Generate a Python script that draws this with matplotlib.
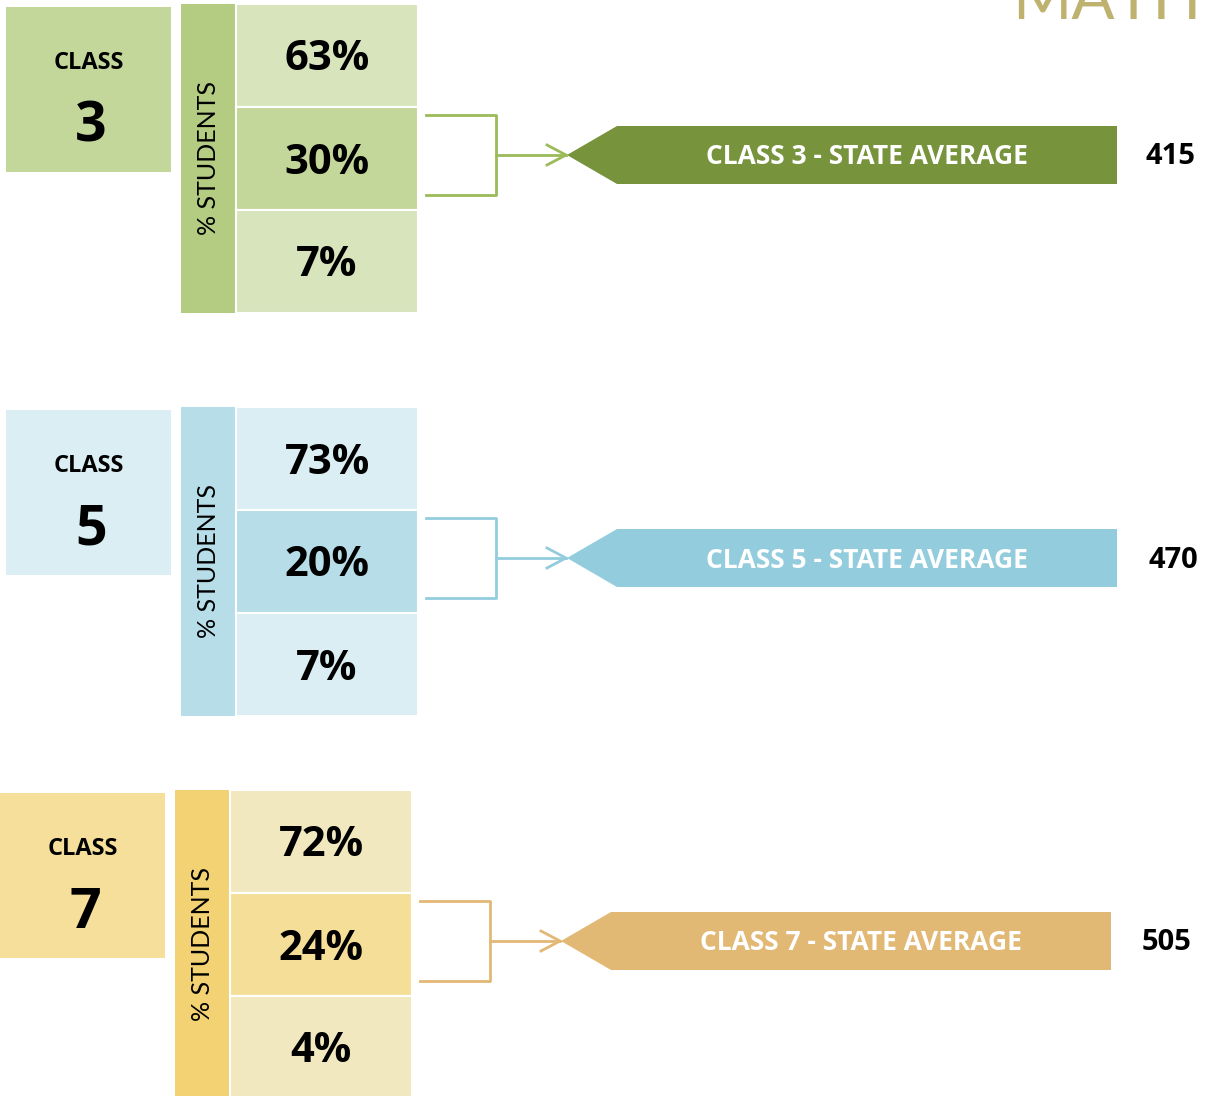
import matplotlib.pyplot as plt
from matplotlib.patches import Rectangle, Polygon

plt.rcParams['font.family'] = ['Open Sans', 'DejaVu Sans']

# data
classes = ['3', '5', '7']
top_pct = [63, 73, 72]
mid_pct = [30, 20, 24]
low_pct = [7, 7, 4]
state_avg = [415, 470, 505]

# colours per class: box, column, light cell, mid cell, banner/arrow
box_col = ['#C4D79B', '#DAEEF3', '#F6DF9A']
side_col = ['#B4CC82', '#B7DDE8', '#F3D274']
light_col = ['#D8E4BC', '#DAEEF3', '#F2E8BF']
mid_col = ['#C4D79B', '#B7DDE8', '#F5DF98']
banner_col = ['#77933C', '#93CDDD', '#E2B875']
line_col = ['#9BBB59', '#93CDDD', '#E2B875']

# block offsets (x, y) in pixels
offsets = [(0, 0), (0, 403), (-6, 786)]
value_x = [1170, 1173, 1167]

fig = plt.figure(figsize=(12.16, 10.96), dpi=100)
ax = fig.add_axes([0, 0, 1, 1])
ax.set_xlim(0, 1216)
ax.set_ylim(1096, 0)
ax.axis('off')

ax.text(1201, 19, 'MATH', ha='right', va='baseline', fontsize=46,
        color='#BFB26F', family='Lato')

for i, c in enumerate(classes):
    dx, dy = offsets[i]
    # class box
    ax.add_patch(Rectangle((6 + dx, 7 + dy), 165, 165, color=box_col[i], lw=0))
    ax.text(89 + dx, 63 + dy, 'CLASS', ha='center', va='center',
            fontsize=17, fontweight='bold', color='black')
    ax.text(91 + dx, 127 + dy, c, ha='center', va='center',
            fontsize=40, fontweight='bold', color='black')
    # % students column
    ax.add_patch(Rectangle((181 + dx, 4 + dy), 55, 309, color=side_col[i], lw=0))
    ax.text(209 + dx, 158 + dy, '% STUDENTS', ha='center', va='center',
            rotation=90, fontsize=18, color='black', family='Lato')
    # cells
    vals = [top_pct[i], mid_pct[i], low_pct[i]]
    cols = [light_col[i], mid_col[i], light_col[i]]
    for k in range(3):
        y = 4 + dy + k * 103
        ax.add_patch(Rectangle((236 + dx, y), 182, 103, facecolor=cols[k],
                               edgecolor='white', lw=1.5))
        ax.text(327 + dx, y + 56, f'{vals[k]}%', ha='center', va='center',
                fontsize=30, fontweight='bold', color='black')
    # bracket + arrow
    lc = line_col[i]
    ax.plot([426 + dx, 496 + dx, 496 + dx, 426 + dx],
            [115 + dy, 115 + dy, 195 + dy, 195 + dy], color=lc, lw=2)
    ax.plot([496 + dx, 566 + dx], [155 + dy, 155 + dy], color=lc, lw=2)
    ax.plot([547 + dx, 566 + dx, 547 + dx], [145 + dy, 155 + dy, 165 + dy],
            color=lc, lw=2)
    # banner
    ax.add_patch(Polygon([(567 + dx, 155 + dy), (617 + dx, 126 + dy),
                          (1117 + dx, 126 + dy), (1117 + dx, 184 + dy),
                          (617 + dx, 184 + dy)], closed=True,
                         color=banner_col[i], lw=0))
    ax.text(867 + dx, 157 + dy, f'CLASS {c} - STATE AVERAGE', ha='center',
            va='center', fontsize=19, fontweight='bold', color='white')
    ax.text(value_x[i], 157 + dy, str(state_avg[i]), ha='center', va='center',
            fontsize=21, fontweight='bold', color='black')

fig.savefig('out.png', dpi=100)
